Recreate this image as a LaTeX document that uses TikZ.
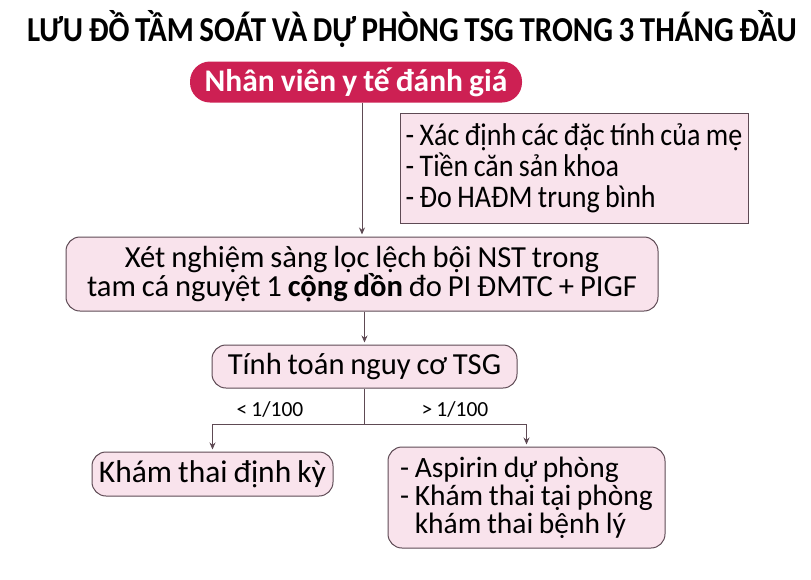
\documentclass[tikz,border=0pt]{standalone}
\usepackage{fontspec}
\setmainfont{Carlito}[WordSpace=0.85]
\newfontfamily\titlefont{Carlito}[FakeStretch=0.885,WordSpace=0.8]
\newfontfamily\condfont{Carlito}[FakeStretch=0.89,WordSpace=0.85]
\usetikzlibrary{arrows.meta}
\definecolor{pinkfill}{HTML}{F9E3EC}
\definecolor{edgegray}{HTML}{5E4A54}
\definecolor{crimson}{HTML}{CD2053}
\begin{document}
\begin{tikzpicture}[x=1pt,y=-1pt,
  box/.style={draw=edgegray,fill=pinkfill,line width=1pt,inner sep=0pt,
    font=\fontsize{30.6}{28}\selectfont},
  rbox/.style={box,rounded corners=14pt},
  conn/.style={draw=edgegray,line width=1pt},
  arr/.style={conn,-{Stealth[length=7pt,width=6pt]},shorten >=2pt},
  lbl/.style={font=\fontsize{21.5}{26}\selectfont,text=black}]
\useasboundingbox (0,0) rectangle (811,579);
\node[font=\titlefont\bfseries\fontsize{35}{36}\selectfont] (title) at (412,29) {LƯU ĐỒ TẦM SOÁT VÀ DỰ PHÒNG TSG TRONG 3 THÁNG ĐẦU};
\node[fill=crimson,text=white,rounded corners=20pt,minimum width=332pt,minimum height=41pt,
  inner sep=0pt,font=\bfseries\fontsize{31.5}{34}\selectfont] (pill) at (356,82) {Nhân viên y tế đánh giá};
\node[box,minimum width=348pt,minimum height=110pt,align=left,
  font=\condfont\fontsize{31.5}{31}\selectfont] (crit) at (574,168)
  {- Xác định các đặc tính của mẹ\\- Tiền căn sản khoa\\- Đo HAĐM trung bình};
\node[rbox,minimum width=592pt,minimum height=74pt,align=center] (test) at (362,274)
  {Xét nghiệm sàng lọc lệch bội NST trong\\tam cá nguyệt 1 \textbf{cộng dồn} đo PI ĐMTC + PIGF};
\node[rbox,minimum width=305pt,minimum height=43pt] (risk) at (364.5,366.5) {Tính toán nguy cơ TSG};
\node[rbox,minimum width=241pt,minimum height=44pt,font=\fontsize{31.5}{30}\selectfont] (low) at (212.5,474) {Khám thai định kỳ};
\node[rbox,minimum width=277pt,minimum height=101pt,align=left,
  font=\fontsize{29.5}{28}\selectfont] (high) at (526.5,497.5)
  {- Aspirin dự phòng\\- Khám thai tại phòng\\\phantom{- }khám thai bệnh lý};
\coordinate (split) at (364.5,424);
\draw[arr] (test.north |- pill.south) -- (test.north);
\draw[arr] (test.south -| risk.north) -- (risk.north);
\draw[conn] (risk.south) -- (split);
\draw[arr] (split) -| (low.north);
\draw[arr] (split) -| (high.north);
\node[lbl] (lt) at (270,409) {< 1/100};
\node[lbl] (gt) at (455,409) {> 1/100};
\end{tikzpicture}
\end{document}
